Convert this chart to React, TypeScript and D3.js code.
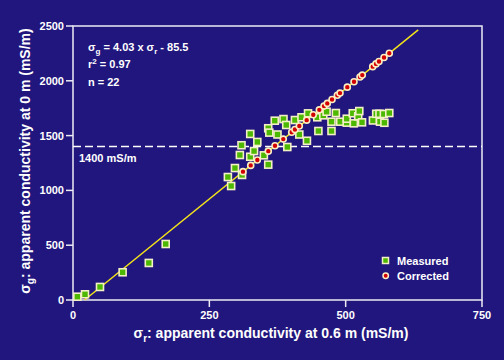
import React from "react";
import * as d3 from "d3";

// Measured points: sigma_r (mS/m) vs sigma_g (mS/m)
const measuredR = [8, 22, 49.5, 91, 139, 170, 284, 290, 297, 310, 306, 309, 325, 332, 338, 325, 350, 358, 358, 360, 370, 375, 386, 391, 393, 407, 415, 419, 429, 431, 448, 450, 459, 465, 474, 474, 482, 490, 502, 502, 513, 515, 523, 525, 530, 550, 556, 562, 570, 580, 563, 571];
const measuredG = [30, 52, 119, 253, 338, 511, 1122, 1040, 1204, 1141, 1323, 1412, 1307, 1359, 1442, 1515, 1320, 1235, 1567, 1527, 1636, 1510, 1651, 1597, 1396, 1642, 1510, 1667, 1453, 1703, 1667, 1542, 1685, 1718, 1627, 1542, 1706, 1627, 1618, 1654, 1704, 1612, 1676, 1724, 1621, 1638, 1699, 1699, 1697, 1706, 1627, 1617];

// Corrected points
const correctedR = [311.7, 325.9, 338, 358.1, 370.4, 385.6, 401, 407, 415, 428.5, 440.6, 451.7, 460.3, 466.3, 475, 484.7, 489.6, 503, 515.3, 526.3, 530.5, 549.6, 555.6, 561.1, 570.3, 580];
const correctedG = [1171, 1228, 1277, 1358, 1407, 1468, 1530, 1555, 1587, 1641, 1690, 1735, 1769, 1794, 1829, 1868, 1888, 1942, 1991, 2035, 2052, 2129, 2154, 2176, 2213, 2252];

// Regression line endpoints (sigma_r, sigma_g)
const fitR = [21.2, 633];
const fitG = [0, 2465];

const xTicks = [0, 250, 500, 750];
const yTicks = [0, 500, 1000, 1500, 2000, 2500];
const thresholdValue = 1400;

const W = 504;
const H = 360;
const left = 73;
const right = 482;
const top = 26;
const bottom = 300;

const BG = "#21167d";
const AX = "#ecebf4";
const FONT = "Liberation Sans, Arial, sans-serif";

export default function App() {
  const x = d3.scaleLinear().domain([0, 750]).range([left, right]);
  const y = d3.scaleLinear().domain([0, 2500]).range([bottom, top]);
  const line = d3
    .line<number>()
    .x((d, i) => x(fitR[i]))
    .y((d) => y(d));

  return (
    <svg
      width={W}
      height={H}
      style={{ position: "fixed", left: 0, top: 0, display: "block" }}
      fontFamily={FONT}
    >
      <rect x={0} y={0} width={W} height={H} fill={BG} />
      {/* frame */}
      <rect x={left} y={top} width={right - left} height={bottom - top} fill="none" stroke={AX} strokeWidth={1.5} />
      {/* threshold */}
      <line x1={left} x2={right} y1={y(thresholdValue)} y2={y(thresholdValue)} stroke="#ffffff" strokeWidth={1.5} strokeDasharray="8,4" />
      <text x={79} y={162} fill="#ffffff" fontSize={11} fontWeight="bold">1400 mS/m</text>
      {/* y ticks */}
      {yTicks.map((t) => (
        <g key={"y" + t}>
          <line x1={left - 7} x2={left} y1={y(t)} y2={y(t)} stroke={AX} strokeWidth={1.5} />
          <text x={left - 9} y={y(t) + 4} fill="#ffffff" fontSize={11} fontWeight="bold" textAnchor="end">{t}</text>
        </g>
      ))}
      {/* x ticks */}
      {xTicks.map((t) => (
        <g key={"x" + t}>
          <line x1={x(t)} x2={x(t)} y1={bottom} y2={bottom + 7} stroke={AX} strokeWidth={1.5} />
          <text x={x(t)} y={bottom + 19} fill="#ffffff" fontSize={11} fontWeight="bold" textAnchor="middle">{t}</text>
        </g>
      ))}
      {/* regression line */}
      <path d={line(fitG) || ""} fill="none" stroke="#f2e21a" strokeWidth={1.5} />
      {/* measured */}
      {measuredR.map((r, i) => (
        <rect key={"m" + i} x={x(r) - 3.5} y={y(measuredG[i]) - 3.5} width={7} height={7} fill="#4cb800" stroke="#f3efc6" strokeWidth={1.6} />
      ))}
      {/* corrected */}
      {correctedR.map((r, i) => (
        <circle key={"c" + i} cx={x(r)} cy={y(correctedG[i])} r={3} fill="#d30000" stroke="#fbefc4" strokeWidth={1.6} />
      ))}
      {/* equation */}
      <text x={88} y={51} fill="#ffffff" fontSize={11} fontWeight="bold">
        σ<tspan fontSize={8} dy={3}>g</tspan><tspan dy={-3}> = 4.03 x σ</tspan><tspan fontSize={8} dy={3}>r</tspan><tspan dy={-3}> - 85.5</tspan>
      </text>
      <text x={88} y={68} fill="#ffffff" fontSize={11} fontWeight="bold">
        r<tspan fontSize={8} dy={-4}>2</tspan><tspan dy={4}> = 0.97</tspan>
      </text>
      <text x={88} y={86} fill="#ffffff" fontSize={11} fontWeight="bold">n = 22</text>
      {/* legend */}
      <rect x={382.5} y={257.5} width={6} height={6} fill="#4cb800" stroke="#f3efc6" strokeWidth={1.5} />
      <text x={397} y={264.5} fill="#ffffff" fontSize={11} fontWeight="bold">Measured</text>
      <circle cx={385.7} cy={275.7} r={2.7} fill="#d30000" stroke="#fbefc4" strokeWidth={1.5} />
      <text x={397} y={279.5} fill="#ffffff" fontSize={11} fontWeight="bold">Corrected</text>
      {/* axis titles */}
      <text x={271} y={338} fill="#ffffff" fontSize={14} fontWeight="bold" textAnchor="middle">
        σ<tspan fontSize={10} dy={4}>r</tspan><tspan dy={-4}>: apparent conductivity at 0.6 m (mS/m)</tspan>
      </text>
      <text transform="translate(30,161) rotate(-90)" fill="#ffffff" fontSize={14} fontWeight="bold" textAnchor="middle">
        σ<tspan fontSize={10} dy={4}>g</tspan><tspan dy={-4}>: apparent conductivity at 0 m (mS/m)</tspan>
      </text>
    </svg>
  );
}
